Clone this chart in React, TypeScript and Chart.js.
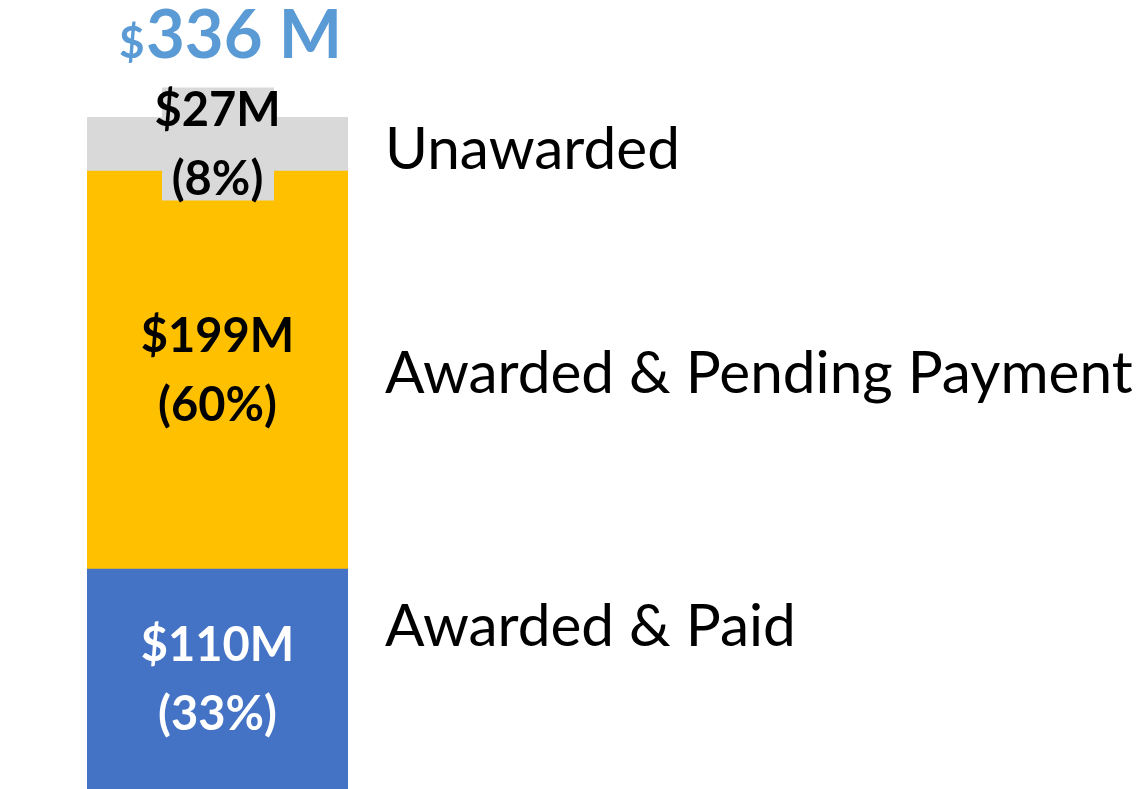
import React, { useEffect, useRef } from "react";
import { Chart, registerables } from "chart.js";

Chart.register(...registerables);

const categories = ["Total"];
const seriesNames = ["Awarded & Paid", "Awarded & Pending Payment", "Unawarded"];
const seriesValues = [110, 199, 27];
const seriesPercents = ["33%", "60%", "8%"];
const seriesColors = ["#4472C4", "#FFC000", "#D9D9D9"];
const valueTextColors = ["#FFFFFF", "#000000", "#000000"];
const nameAnchorValues = [82, 208.5, 320.5];
const totalLabel = "336 M";

const FONT = "Lato, 'Open Sans', sans-serif";

const labelPlugin = {
  id: "labelPlugin",
  afterDatasetsDraw(chart: any) {
    const ctx = chart.ctx;
    const area = chart.chartArea;
    const yScale = chart.scales.y;
    ctx.save();
    chart.data.datasets.forEach((ds: any, i: number) => {
      const meta = chart.getDatasetMeta(i);
      const bar: any = meta.data[0];
      const cx = bar.x;
      const capMid = (bar.y + bar.base) / 2;
      const b1 = capMid + 16.5 - 34.5;
      const b2 = capMid + 16.5 + 34.5;
      if (i === 2) {
        ctx.fillStyle = "#D9D9D9";
        ctx.fillRect(cx - 56 + 0.5, capMid - 56.5, 112, 113);
      }
      ctx.font = `bold 47px ${FONT}`;
      ctx.textAlign = "center";
      ctx.textBaseline = "alphabetic";
      ctx.fillStyle = valueTextColors[i];
      ctx.fillText(`$${seriesValues[i]}M`, cx, b1);
      ctx.fillText(`(${seriesPercents[i]})`, cx, b2);

      // category name on right
      ctx.font = `58.5px ${FONT}`;
      ctx.textAlign = "left";
      ctx.fillStyle = "#000000";
      const ny = yScale.getPixelForValue(nameAnchorValues[i]);
      ctx.fillText(seriesNames[i], area.right + 37, ny + 20.5);
    });
    // total title
    ctx.fillStyle = "#5B9BD5";
    ctx.textAlign = "left";
    const x0 = area.left + 32;
    const topY = yScale.getPixelForValue(336);
    const base = topY - 59;
    ctx.font = `bold 44px ${FONT}`;
    ctx.fillText("$", x0, base);
    ctx.font = `bold 67px ${FONT}`;
    ctx.fillText(totalLabel, x0 + 27, base);
    ctx.restore();
  },
};

export default function App() {
  const ref = useRef<HTMLCanvasElement>(null);
  useEffect(() => {
    document.body.style.margin = "0";
    const chart = new Chart(ref.current!, {
      type: "bar",
      data: {
        labels: categories,
        datasets: seriesNames.map((name, i) => ({
          label: name,
          data: [seriesValues[i]],
          backgroundColor: seriesColors[i],
          borderWidth: 0,
          barPercentage: 1,
          categoryPercentage: 1,
        })),
      },
      options: {
        animation: false,
        responsive: false,
        maintainAspectRatio: false,
        layout: { padding: { left: 87, right: 800, top: 117, bottom: 0 } },
        plugins: { legend: { display: false }, tooltip: { enabled: false }, title: { display: false } },
        scales: {
          x: { stacked: true, display: false },
          y: { stacked: true, display: false, min: 0, max: 336 },
        },
      },
      plugins: [labelPlugin],
    });
    return () => chart.destroy();
  }, []);
  return (
    <div style={{ position: "absolute", left: 0, top: 0, width: 1148, height: 789, background: "#fff" }}>
      <canvas ref={ref} width={1148} height={789} />
    </div>
  );
}
